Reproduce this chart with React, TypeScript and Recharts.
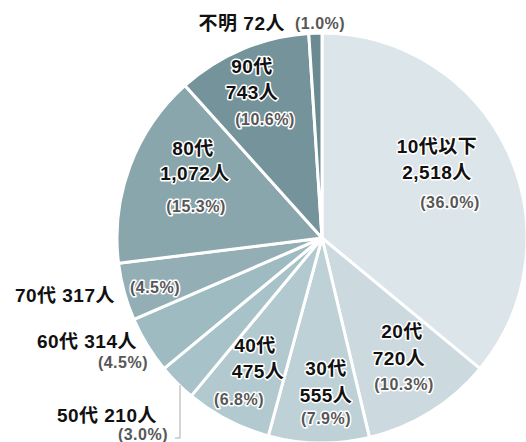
import { Cell, Pie, PieChart } from "recharts";

const AGE_GROUPS = ["10代以下", "20代", "30代", "40代", "50代", "60代", "70代", "80代", "90代", "不明"];
const PEOPLE = [2518, 720, 555, 475, 210, 314, 317, 1072, 743, 72];
const SLICE_COLORS = [
  "#dce5e9",
  "#ccdadf",
  "#bed1d6",
  "#b1c9cf",
  "#a7c2c8",
  "#9ebbc1",
  "#93afb5",
  "#88a6ab",
  "#74939a",
  "#6b8a91",
];

const total = PEOPLE.reduce((a, b) => a + b, 0);
const data = AGE_GROUPS.map((name, i) => ({ name, value: PEOPLE[i] }));

// label placement, offsets from the pie centre
// "stack": three lines inside the slice; "side": name+count on one line, pct below
type Layout =
  | { kind: "stack"; name: [number, number]; count: [number, number]; pct: [number, number] }
  | { kind: "side"; main: [number, number]; pct: [number, number]; pctAnchor: "start" | "middle" | "end"; leader?: [number, number][] };

const LABEL_LAYOUT: Layout[] = [
  { kind: "stack", name: [115, -92], count: [115, -66], pct: [128, -36] },
  { kind: "stack", name: [80, 93], count: [77, 120], pct: [82, 146] },
  { kind: "stack", name: [4, 130], count: [4, 157], pct: [4, 180] },
  { kind: "stack", name: [-67, 107], count: [-64, 133], pct: [-83, 161] },
  {
    kind: "side",
    main: [-165, 177],
    pct: [-154, 196],
    pctAnchor: "end",
    leader: [
      [-142, 147],
      [-142, 200],
      [-147, 200],
    ],
  },
  { kind: "side", main: [-185, 103], pct: [-174, 124], pctAnchor: "end" },
  { kind: "side", main: [-207, 57], pct: [-167, 49], pctAnchor: "middle" },
  { kind: "stack", name: [-129, -90], count: [-127, -65], pct: [-126, -32] },
  { kind: "stack", name: [-70, -172], count: [-70, -146], pct: [-57, -119] },
  { kind: "side", main: [-37, -215], pct: [-27, -215], pctAnchor: "start" },
];

const FONT = "'Liberation Sans', Arial, 'Noto Sans CJK JP', sans-serif";
const mainText = {
  fontFamily: FONT,
  fontSize: 19,
  fontWeight: 700,
  letterSpacing: 0.5,
  fill: "#111",
  stroke: "#fff",
  strokeWidth: 3,
  paintOrder: "stroke",
  strokeLinejoin: "round",
} as const;
const pctText = { ...mainText, fontSize: 16, fill: "#575757" } as const;

const pct = (v: number) => `(${((v / total) * 100).toFixed(1)}%)`;

function renderLabel(props: any) {
  const { cx, cy, index } = props;
  const name = AGE_GROUPS[index];
  const v = PEOPLE[index];
  const count = `${v.toLocaleString("en-US")}人`;
  const l = LABEL_LAYOUT[index];
  if (l.kind === "stack") {
    return (
      <g key={`lbl-${index}`}>
        <text x={cx + l.name[0]} y={cy + l.name[1]} textAnchor="middle" dominantBaseline="central" style={mainText}>
          {name}
        </text>
        <text x={cx + l.count[0]} y={cy + l.count[1]} textAnchor="middle" dominantBaseline="central" style={mainText}>
          {count}
        </text>
        <text x={cx + l.pct[0]} y={cy + l.pct[1]} textAnchor="middle" dominantBaseline="central" style={pctText}>
          {pct(v)}
        </text>
      </g>
    );
  }
  return (
    <g key={`lbl-${index}`}>
      {l.leader && (
        <polyline
          points={l.leader.map(([x, y]) => `${cx + x},${cy + y}`).join(" ")}
          fill="none"
          stroke="#aaa"
          strokeWidth={1}
        />
      )}
      <text x={cx + l.main[0]} y={cy + l.main[1]} textAnchor="end" dominantBaseline="central" style={mainText}>
        {`${name} ${count}`}
      </text>
      <text x={cx + l.pct[0]} y={cy + l.pct[1]} textAnchor={l.pctAnchor} dominantBaseline="central" style={pctText}>
        {pct(v)}
      </text>
    </g>
  );
}

export default function App() {
  return (
    <div style={{ position: "fixed", left: 0, top: 0, width: 526, height: 442, background: "#fff" }}>
      <PieChart width={526} height={442} margin={{ top: 0, right: 0, bottom: 0, left: 0 }}>
        <Pie
          data={data}
          dataKey="value"
          nameKey="name"
          cx={322}
          cy={238}
          outerRadius={205}
          startAngle={90}
          endAngle={-270}
          stroke="#fff"
          strokeWidth={3}
          label={renderLabel}
          labelLine={false}
          isAnimationActive={false}
        >
          {data.map((_, i) => (
            <Cell key={i} fill={SLICE_COLORS[i]} />
          ))}
        </Pie>
      </PieChart>
    </div>
  );
}
